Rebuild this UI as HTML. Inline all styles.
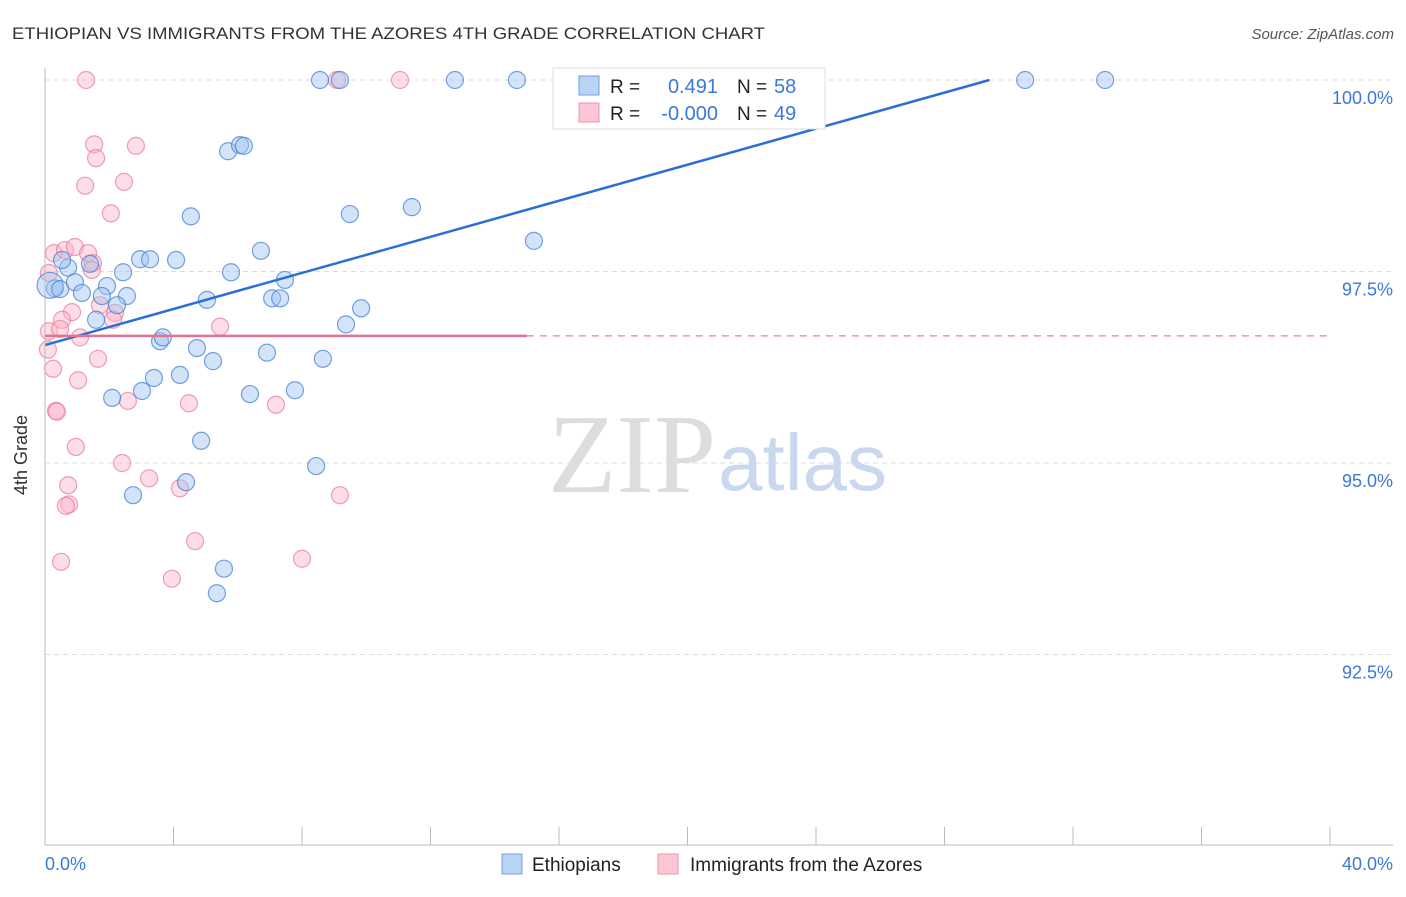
<!DOCTYPE html>
<html><head><meta charset="utf-8"><style>
body{margin:0;background:#fff;font-family:"Liberation Sans",sans-serif;}
svg text{font-family:"Liberation Sans",sans-serif;}
</style></head><body>
<svg width="1406" height="892" xmlns="http://www.w3.org/2000/svg">
<text x="12" y="39" font-size="17" fill="#333" textLength="753" lengthAdjust="spacingAndGlyphs">ETHIOPIAN VS IMMIGRANTS FROM THE AZORES 4TH GRADE CORRELATION CHART</text>
<text x="1394" y="39" font-size="15" fill="#555" font-style="italic" text-anchor="end">Source: ZipAtlas.com</text>
<g id="grid"></g>
<text x="716" y="492" font-size="112" fill="#ddd" text-anchor="end" style="font-family:'Liberation Serif',serif">ZIP</text>
<text x="718" y="490" font-size="80" fill="#c9d8ef">atlas</text>
<g id="pts"></g>
<g id="lines"></g>
<line x1="45" y1="68" x2="45" y2="845" stroke="#bbb"/>
<line x1="45" y1="845" x2="1393" y2="845" stroke="#bbb"/>
<text x="27" y="455" font-size="18" fill="#333" text-anchor="middle" transform="rotate(-90 27 455)">4th Grade</text>
<text x="45" y="870" font-size="18" fill="#3b78d8">0.0%</text>
<text x="1393" y="870" font-size="18" fill="#3b78d8" text-anchor="end">40.0%</text>
<g>
<rect x="553" y="68" width="272" height="61" fill="#fff" stroke="#ddd"/>
<rect x="579" y="76" width="20" height="19" fill="#b9d3f5" stroke="#6fa0e0"/>
<rect x="579" y="103" width="20" height="19" fill="#fcc6d4" stroke="#ee93ad"/>
<text x="610" y="93" font-size="19" fill="#222">R =</text>
<text x="718" y="93" font-size="20" fill="#3b78d8" text-anchor="end">0.491</text>
<text x="737" y="93" font-size="19" fill="#222">N =</text>
<text x="774" y="93" font-size="20" fill="#3b78d8">58</text>
<text x="610" y="120" font-size="19" fill="#222">R =</text>
<text x="718" y="120" font-size="20" fill="#3b78d8" text-anchor="end">-0.000</text>
<text x="737" y="120" font-size="19" fill="#222">N =</text>
<text x="774" y="120" font-size="20" fill="#3b78d8">49</text>
</g>
<g>
<rect x="502" y="854" width="20" height="20" fill="#b9d3f5" stroke="#6fa0e0"/>
<text x="532" y="871" font-size="19" fill="#222">Ethiopians</text>
<rect x="658" y="854" width="20" height="20" fill="#fcc6d4" stroke="#ee93ad"/>
<text x="690" y="871" font-size="19" fill="#222">Immigrants from the Azores</text>
</g>
</svg>
<script>
const yTicks=[100,97.5,95,92.5];
const yTickLabels=["100.0%","97.5%","95.0%","92.5%"];
const xTicks=[0,4,8,12,16,20,24,28,32,36,40];
const blueX=[8.56,9.18,12.76,14.69,30.51,33.0,5.70,6.07,6.19,4.54,9.49,11.42,15.22,6.72,2.96,3.27,4.08,2.43,5.79,7.47,0.72,0.53,1.40,0.93,0.31,0.16,0.47,1.93,1.15,1.77,2.55,2.24,5.04,7.07,7.32,9.84,1.59,9.37,3.58,3.67,4.73,5.23,6.91,8.65,3.39,4.20,3.02,2.09,6.38,7.78,4.86,8.44,4.39,2.74,5.57,5.35];
const blueY=[100,100,100,100,100,100,99.07,99.15,99.14,98.22,98.25,98.34,97.90,97.77,97.66,97.66,97.65,97.49,97.49,97.39,97.55,97.65,97.60,97.36,97.28,97.32,97.27,97.31,97.22,97.18,97.18,97.06,97.13,97.15,97.15,97.02,96.87,96.81,96.59,96.64,96.50,96.33,96.44,96.36,96.11,96.15,95.94,95.85,95.90,95.95,95.29,94.96,94.75,94.58,93.62,93.30];
const pinkX=[1.28,9.09,11.05,1.53,2.83,1.59,2.46,1.25,2.05,0.28,0.62,0.93,1.34,1.49,1.46,0.12,1.71,0.84,0.53,2.18,2.12,0.12,0.47,1.09,5.45,0.09,0.25,1.65,1.03,0.34,0.37,2.58,4.48,7.19,0.96,2.40,3.24,4.20,0.72,0.75,0.65,9.18,4.67,0.50,8.0,3.95];
const pinkY=[100,100,100,99.16,99.14,98.98,98.67,98.62,98.26,97.74,97.78,97.82,97.74,97.61,97.52,97.48,97.06,96.97,96.87,96.96,96.87,96.72,96.75,96.64,96.78,96.48,96.23,96.36,96.08,95.68,95.67,95.81,95.78,95.76,95.21,95.0,94.80,94.67,94.71,94.46,94.44,94.58,93.98,93.71,93.75,93.49];
const blueTrend=[[0,96.54],[29.4,100]];
const pinkTrendY=96.66, pinkSolidEnd=15;
const NS="http://www.w3.org/2000/svg";
const X=v=>45+v*32.125, Y=v=>80+(100-v)*76.6;
function mk(t,a,p){const e=document.createElementNS(NS,t);for(const k in a)e.setAttribute(k,a[k]);p.appendChild(e);return e;}
const grid=document.getElementById('grid');
yTicks.forEach((v,i)=>{
 const l=mk('line',{x1:45,x2:1393,y1:Y(v),y2:Y(v),stroke:'#ddd','stroke-dasharray':'5,4'},grid);
 
 
 const t=mk('text',{x:1393,y:Y(v)+24,'font-size':18,fill:'#3b78d8','text-anchor':'end'},grid);
 t.textContent=yTickLabels[i];
 
 
});
xTicks.forEach(v=>{
 const l=mk('line',{x1:X(v),x2:X(v),y1:827,y2:845,stroke:'#bbb'},grid);
 
 
});
const pts=document.getElementById('pts');
pinkX.forEach((x,i)=>{
 const c=mk('circle',{cx:X(x),cy:Y(pinkY[i]),r:8.5,fill:'rgba(250,180,200,0.45)',stroke:'rgba(232,120,155,0.7)','stroke-width':1.2},pts);
 
 
});
blueX.forEach((x,i)=>{
 const c=mk('circle',{cx:X(x),cy:Y(blueY[i]),r:i==25?13:8.5,fill:'rgba(160,195,240,0.45)',stroke:'rgba(70,130,215,0.75)','stroke-width':1.2},pts);
 
 
});
const lines=document.getElementById('lines');
const b=mk('line',{x1:X(blueTrend[0][0]),y1:Y(blueTrend[0][1]),x2:X(blueTrend[1][0]),y2:Y(blueTrend[1][1]),stroke:'#2a6fd6','stroke-width':2.5},lines);


const p1=mk('line',{x1:X(0),y1:Y(pinkTrendY),x2:X(pinkSolidEnd),y2:Y(pinkTrendY),stroke:'#e8708f','stroke-width':2.5},lines);


const p2=mk('line',{x1:X(pinkSolidEnd),y1:Y(pinkTrendY),x2:X(40),y2:Y(pinkTrendY),stroke:'#e8809d','stroke-width':1.3,'stroke-dasharray':'7,6'},lines);


</script>
</body></html>
